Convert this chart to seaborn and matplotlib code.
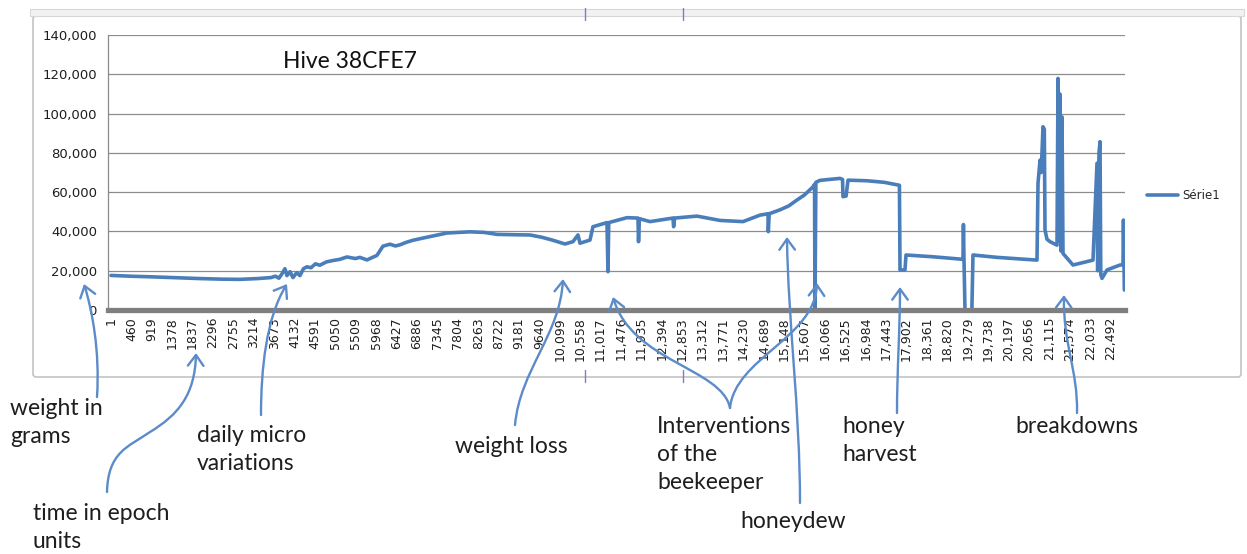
import numpy as np
import pandas as pd
import matplotlib
matplotlib.use("Agg")
import matplotlib.pyplot as plt
import matplotlib.transforms as mtransforms
from matplotlib.patches import FancyArrowPatch, FancyBboxPatch
from matplotlib.path import Path
from matplotlib.lines import Line2D
import seaborn as sns

# ---------------- data ----------------
epoch_index = [
    1, 450, 900, 1400, 2000, 2500, 2900, 3300, 3600, 3700, 3780, 3850, 3915, 3960,
    4030, 4095, 4180, 4253, 4330, 4410, 4500, 4600, 4700, 4850, 4995, 5150, 5310,
    5500, 5600, 5760, 5985, 6120, 6278, 6400, 6503, 6650, 6795, 7100, 7560, 8078,
    8400, 8685, 9100, 9428, 9700, 9945, 10215, 10395, 10508, 10553, 10778, 10845,
    11160, 11183, 11200, 11610, 11858, 11870, 11890, 12128, 12645, 12660, 12680,
    13185, 13703, 14220, 14603, 14783, 14790, 14810, 15053, 15250, 15435, 15600,
    15795, 15830, 15840, 15860, 15953, 16403, 16460, 16470, 16540, 16583, 17010,
    17400, 17708, 17740, 17753, 17865, 17888, 18495, 19170, 19180, 19193, 19215,
    19370, 19395, 19935, 20835, 20858, 20903, 20930, 20970, 21000, 21015, 21060,
    21128, 21285, 21308, 21330, 21350, 21375, 21398, 21420, 21645, 22095, 22185,
    22200, 22230, 22253, 22270, 22298, 22410, 22703, 22770, 22780, 22800,
]
weight_grams = [
    17600, 17200, 16900, 16500, 16000, 15700, 15600, 16000, 16500, 17200, 16200,
    18500, 21000, 17500, 19500, 16500, 19000, 17500, 21000, 22000, 21500, 23500,
    22800, 24500, 25200, 25800, 27000, 26200, 26800, 25500, 27800, 32500, 33500,
    32600, 33200, 34500, 35500, 37000, 39200, 39800, 39500, 38500, 38300, 38200,
    37000, 35500, 33600, 34800, 38200, 34000, 35600, 42400, 44500, 19500, 44500,
    47000, 46800, 34800, 46500, 45000, 46800, 42400, 46800, 47800, 45600, 45000,
    48300, 49000, 39900, 49000, 51000, 53000, 56000, 58500, 62700, 64000, 1000,
    65000, 66000, 67000, 66500, 57700, 58000, 66100, 65800, 65000, 63600, 63500,
    20400, 20400, 28000, 27100, 25800, 43500, 25000, 0, 0, 28000, 26800, 25400,
    64600, 76300, 70000, 93300, 92000, 40700, 36000, 34800, 33000, 117900, 35000,
    110000, 30000, 98300, 28800, 22900, 25400, 74700, 20000, 80000, 85700, 18000,
    16100, 20400, 22900, 23000, 45800, 10200,
]
series_name = "Série1"
chart_title = "Hive 38CFE7"

y_ticks = [0, 20000, 40000, 60000, 80000, 100000, 120000, 140000]
y_tick_labels = ["0", "20,000", "40,000", "60,000", "80,000", "100,000", "120,000", "140,000"]

x_tick_positions = [
    1, 460, 919, 1378, 1837, 2296, 2755, 3214, 3673, 4132, 4591, 5050, 5509, 5968,
    6427, 6886, 7345, 7804, 8263, 8722, 9181, 9640, 10099, 10558, 11017, 11476,
    11935, 12394, 12853, 13312, 13771, 14230, 14689, 15148, 15607, 16066, 16525,
    16984, 17443, 17902, 18361, 18820, 19279, 19738, 20197, 20656, 21115, 21574,
    22033, 22492,
]
x_tick_labels = [
    "1", "460", "919", "1378", "1837", "2296", "2755", "3214", "3673", "4132",
    "4591", "5050", "5509", "5968", "6427", "6886", "7345", "7804", "8263", "8722",
    "9181", "9640", "10,099", "10,558", "11,017", "11,476", "11,935", "12,394",
    "12,853", "13,312", "13,771", "14,230", "14,689", "15,148", "15,607", "16,066",
    "16,525", "16,984", "17,443", "17,902", "18,361", "18,820", "19,279", "19,738",
    "20,197", "20,656", "21,115", "21,574", "22,033", "22,492",
]

annotation_texts = [
    "weight in\ngrams",
    "time in epoch\nunits",
    "daily micro\nvariations",
    "weight loss",
    "Interventions\nof the\nbeekeeper",
    "honeydew",
    "honey\nharvest",
    "breakdowns",
]

# ---------------- styling ----------------
LINE_COLOR = "#4a7ebb"
ARROW_COLOR = "#5b8bc9"
GRID_COLOR = "#8c8c8c"
TEXT_COLOR = "#1e1e1e"

sns.set_theme(style="white")
plt.rcParams["font.family"] = ["DejaVu Sans"]

W, H = 1247, 554
fig = plt.figure(figsize=(W / 100, H / 100), dpi=100)
fig.patch.set_facecolor("white")

def fx(px):
    return px / W

def fy(py):
    return 1 - py / H

# pixel (top-left origin) -> figure transform
pix = mtransforms.Affine2D().scale(1 / W, -1 / H).translate(0, 1) + fig.transFigure

# chart-area frame (Excel style)
frame = FancyBboxPatch((33, 16), 1208, 361, boxstyle="round,pad=0,rounding_size=3",
                       transform=pix, facecolor="white", edgecolor="#c4c4c4", lw=1.2,
                       zorder=0)
fig.add_artist(frame)
strip = FancyBboxPatch((30, 9), 1214, 7, boxstyle="square,pad=0", transform=pix,
                       facecolor="#f2f2f2", edgecolor="#d8d8d8", lw=0.8, zorder=0)
fig.add_artist(strip)
for hx in (585, 683):
    fig.add_artist(Line2D([hx, hx], [8, 20], transform=pix, color="#7b7bd6", lw=1))
    fig.add_artist(Line2D([hx, hx], [370, 382], transform=pix, color="#7b7bd6", lw=1))

ax = fig.add_axes([fx(108), fy(310), fx(1125) - fx(108), fy(35) - fy(310)])
ax.set_facecolor("white")

df = pd.DataFrame({"epoch": epoch_index, "weight": weight_grams})
df["series"] = series_name
sns.lineplot(data=df, x="epoch", y="weight", hue="series", palette=[LINE_COLOR],
             estimator=None, sort=False, lw=2.6, ax=ax, legend=True, zorder=3)

ax.set_xlim(-66, 22815)
ax.set_ylim(0, 140000)
ax.set_yticks(y_ticks)
ax.set_yticklabels(y_tick_labels)
ax.set_xticks(x_tick_positions)
ax.set_xticklabels(x_tick_labels, rotation=90)
ax.set_xlabel("")
ax.set_ylabel("")

ax.yaxis.grid(True, color=GRID_COLOR, lw=0.9)
ax.xaxis.grid(False)
ax.set_axisbelow(True)

for s in ("top", "right"):
    ax.spines[s].set_visible(False)
ax.spines["left"].set_color("#8a8a8a")
ax.spines["left"].set_linewidth(0.9)
ax.spines["bottom"].set_color("#7f7f7f")
ax.spines["bottom"].set_linewidth(3.8)
ax.spines["bottom"].set_zorder(4)

ax.tick_params(axis="y", direction="out", length=3, width=0.8, color="#8a8a8a",
               labelsize=9.5, pad=5, labelcolor=TEXT_COLOR)
ax.tick_params(axis="x", length=0, labelsize=9, pad=5, labelcolor=TEXT_COLOR)

# legend to the right of the plot area
handles, labels = ax.get_legend_handles_labels()
ax.legend(handles, labels, loc="center left", bbox_to_anchor=(fx(1147), fy(196)),
          bbox_transform=fig.transFigure, frameon=False, fontsize=8.5,
          handlelength=2.6, handletextpad=0.4, borderpad=0, borderaxespad=0)

# title inside the plot area
fig.text(fx(283), fy(62), chart_title, fontsize=16.5, family="Lato", color="#111111",
         va="center", ha="left")

# ---------------- annotations ----------------
text_pos = [
    (10, 398), (33, 503), (197, 425), (455, 436),
    (657, 416), (740, 511), (842, 416), (1015, 416),
]
for (tx, ty), t in zip(text_pos, annotation_texts):
    fig.text(fx(tx), fy(ty), t, fontsize=16.5, family="Lato", color=TEXT_COLOR,
             va="top", ha="left", linespacing=1.42)

curves = [
    [(97, 397), (100, 350), (92, 310), (84, 284)],
    [(107, 492), (108, 452), (128, 447), (150, 432), (178, 415), (195, 395), (196, 353)],
    [(261, 415), (261, 370), (266, 318), (287, 284)],
    [(515, 425), (520, 370), (560, 335), (563, 279)],
    [(730, 408), (722, 368), (632, 362), (613, 297)],
    [(730, 408), (735, 358), (815, 338), (817, 283)],
    [(800, 503), (800, 410), (788, 320), (787, 237)],
    [(897, 413), (897, 370), (900, 330), (900, 287)],
    [(1077, 413), (1078, 370), (1063, 345), (1064, 295)],
]
for pts in curves:
    codes = [Path.MOVETO] + [Path.CURVE4] * (len(pts) - 1)
    p = Path(pts, codes)
    arr = FancyArrowPatch(path=p, transform=pix,
                          arrowstyle="->,head_length=0.55,head_width=0.4",
                          mutation_scale=14, color=ARROW_COLOR, lw=1.7, zorder=5)
    fig.add_artist(arr)

fig.savefig("out.png", dpi=100, facecolor="white")
